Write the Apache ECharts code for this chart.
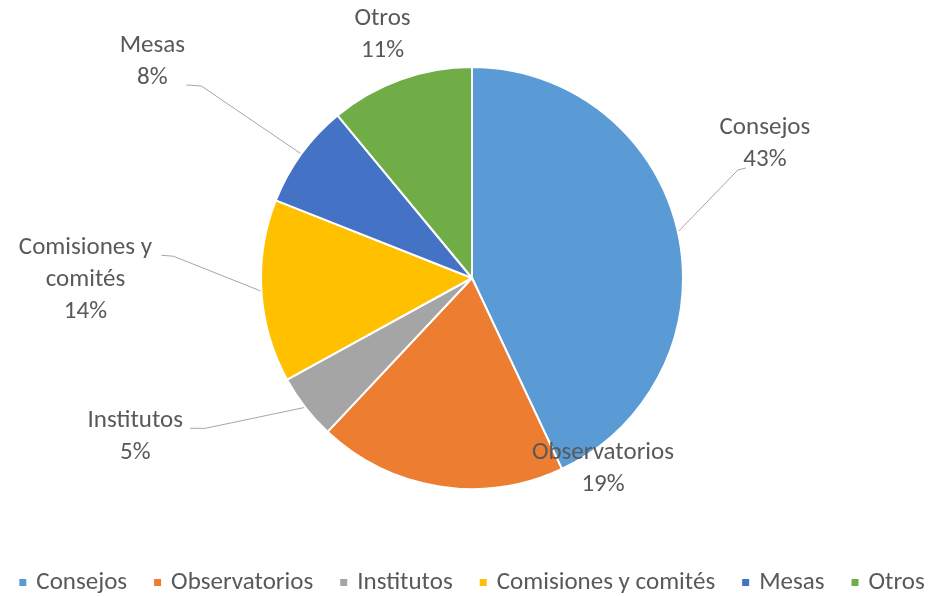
<!DOCTYPE html>
<html><head><meta charset="utf-8">
<script src="https://cdn.jsdelivr.net/npm/echarts@6/dist/echarts.min.js"></script>
<style>html,body{margin:0;padding:0;background:#fff}#c{width:942px;height:596px}</style>
</head><body><div id="c"></div>
<script>
const categories = ['Consejos', 'Observatorios', 'Institutos', 'Comisiones y comités', 'Mesas', 'Otros'];
const labelTexts = ['Consejos', 'Observatorios', 'Institutos', 'Comisiones y\ncomités', 'Mesas', 'Otros'];
const values = [43, 19, 5, 14, 8, 11];
const colors = ['#5B9BD5', '#ED7D31', '#A5A5A5', '#FFC000', '#4472C4', '#70AD47'];

// label offsets relative to the slice-edge anchor computed by the library (layout only)
const labelOffsets = [[87, -88], [164, -18], [-170, 29], [-176, -11], [-149, -92], [-18, -45]];
const lineBends = [[[60, -62], [68, -64]], null, [[-100, 21], [-115, 21]], [[-88, -35], [-100, -36]], [[-100, -68], [-115, -69]], null];

const FONT = 'Carlito, "Liberation Sans Narrow", Lato, sans-serif';
const chart = echarts.init(document.getElementById('c'));
chart.setOption({
  animation: false,
  color: colors,
  legend: {
    top: 565, left: 'center',
    icon: 'rect', itemWidth: 9, itemHeight: 9, itemGap: 25,
    textStyle: { color: '#595959', fontSize: 25, fontFamily: FONT, padding: [0, 0, 0, 4] },
    data: categories
  },
  series: [{
    type: 'pie',
    center: [472, 278],
    radius: 211,
    startAngle: 90,
    clockwise: true,
    avoidLabelOverlap: false,
    itemStyle: { borderColor: '#fff', borderWidth: 2 },
    label: {
      show: true,
      position: 'outside',
      color: '#595959',
      fontSize: 25,
      lineHeight: 32,
      fontFamily: FONT,
      formatter: p => labelTexts[p.dataIndex] + '\n' + p.percent.toFixed(0) + '%'
    },
    labelLine: { show: true, length: 20, length2: 10, lineStyle: { color: '#A6A6A6', width: 1 } },
    labelLayout: function (params) {
      const i = params.dataIndex;
      const p0 = params.labelLinePoints ? params.labelLinePoints[0] : [0, 0];
      const off = labelOffsets[i];
      const res = { x: p0[0] + off[0], y: p0[1] + off[1], align: 'center', verticalAlign: 'middle' };
      const b = lineBends[i];
      if (b) {
        res.labelLinePoints = [p0, [p0[0] + b[0][0], p0[1] + b[0][1]], [p0[0] + b[1][0], p0[1] + b[1][1]]];
      } else {
        res.labelLinePoints = [p0, p0, p0];
      }
      return res;
    },
    data: categories.map((c, i) => ({ name: c, value: values[i] }))
  }]
});
</script></body></html>
